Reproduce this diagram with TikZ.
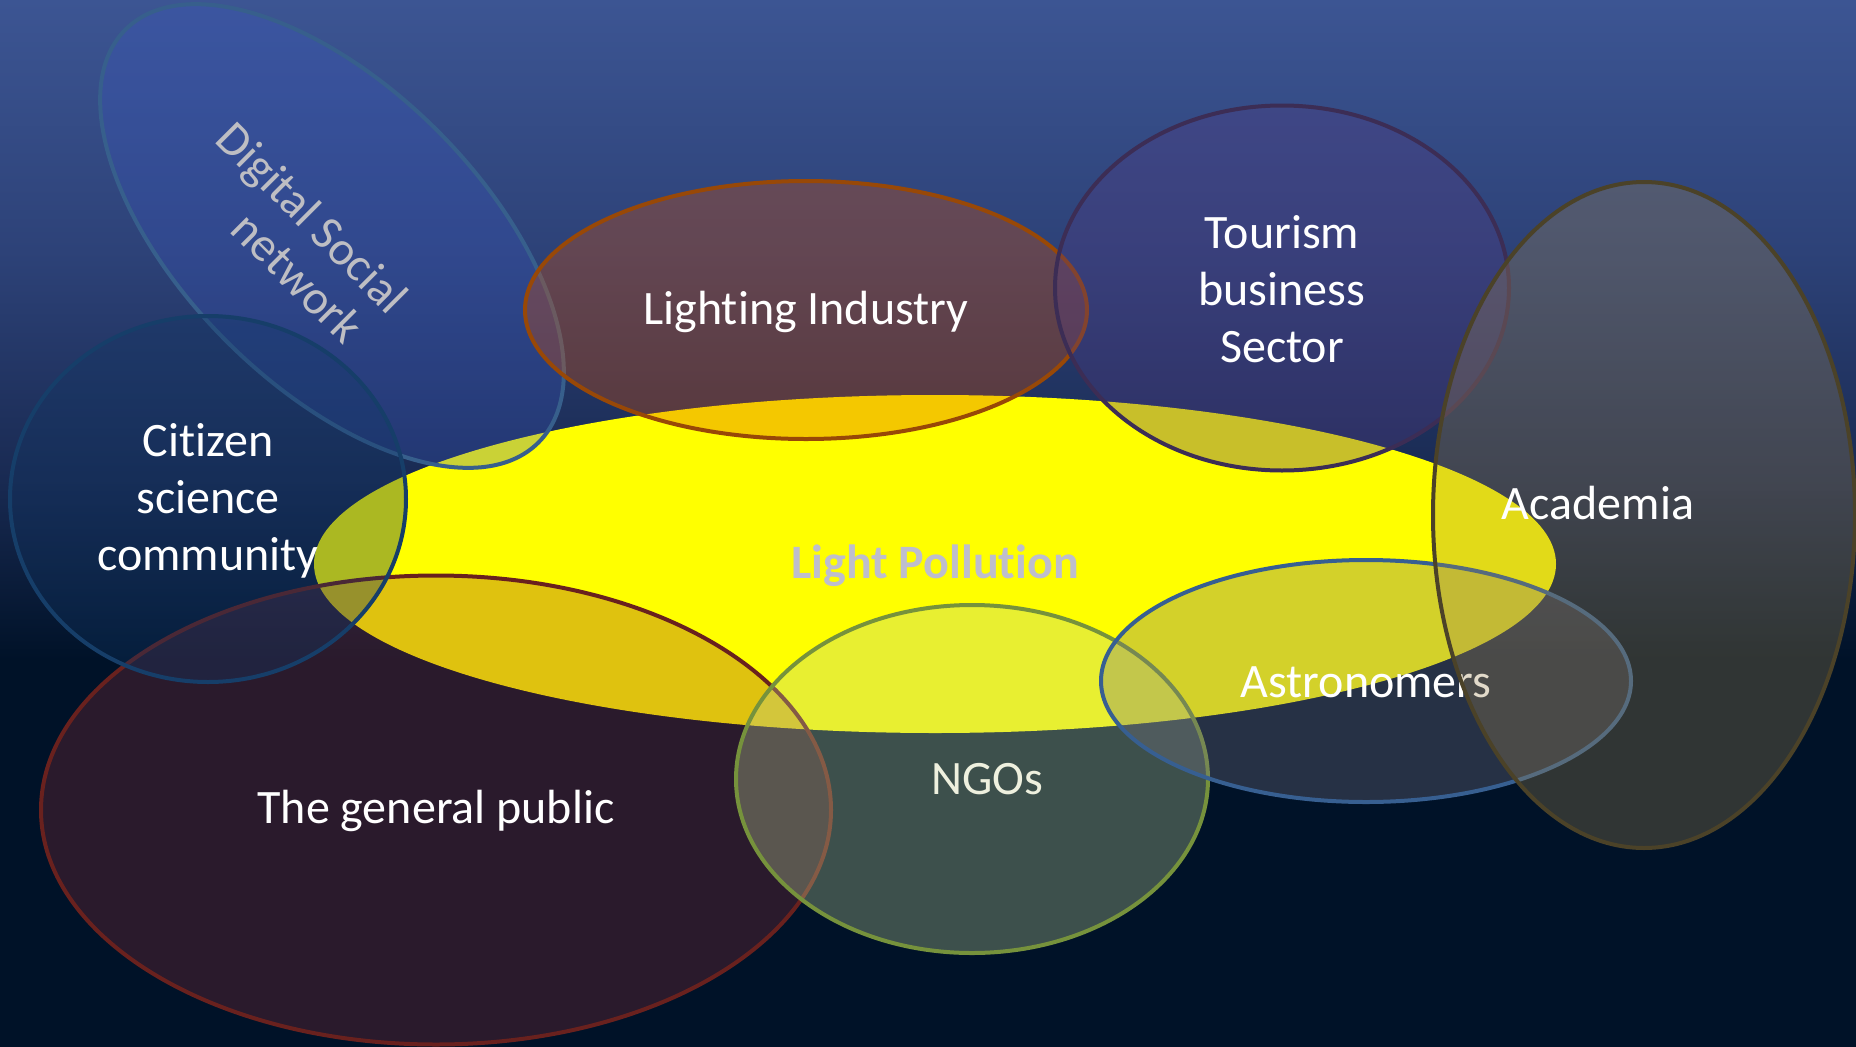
\documentclass[tikz,border=0pt]{standalone}
\usepackage{fontspec}
\setmainfont[Ligatures=NoCommon]{Carlito}
\usetikzlibrary{shapes.geometric}
\definecolor{bgtop}{RGB}{60,85,147}
\definecolor{bgmA}{RGB}{45,66,120}
\definecolor{bgmB}{RGB}{25,42,82}
\definecolor{bgbot}{RGB}{0,18,40}
\definecolor{lpfill}{RGB}{255,255,0}
\definecolor{lptext}{RGB}{190,190,205}
\definecolor{dsnfill}{RGB}{60,90,200}
\definecolor{dsnline}{RGB}{55,95,140}
\definecolor{dsntext}{RGB}{190,190,195}
\definecolor{pubfill}{RGB}{145,48,55}
\definecolor{publine}{RGB}{105,33,30}
\definecolor{citfill}{RGB}{17,54,100}
\definecolor{citline}{RGB}{22,62,105}
\definecolor{ligfill}{RGB}{220,80,0}
\definecolor{ligline}{RGB}{152,72,7}
\definecolor{tourfill}{RGB}{84,59,131}
\definecolor{tourline}{RGB}{60,45,85}
\definecolor{ngofill}{RGB}{188,209,151}
\definecolor{ngoline}{RGB}{118,146,60}
\definecolor{ngotext}{RGB}{238,240,222}
\definecolor{astfill}{RGB}{119,115,131}
\definecolor{astline}{RGB}{55,95,145}
\definecolor{acafill}{RGB}{160,135,80}
\definecolor{acaline}{RGB}{75,66,40}
\pgfdeclareverticalshading{bgshade}{100bp}{color(0bp)=(bgbot); color(43.5bp)=(bgbot); color(52.1bp)=(bgmB); color(63bp)=(bgmA); color(75bp)=(bgtop); color(100bp)=(bgtop)}
\begin{document}
\begin{tikzpicture}[x=1pt,y=-1pt,
  ell/.style={ellipse, inner sep=0pt, outer sep=0pt, line width=4pt},
  lbl/.style={font=\fontsize{48}{57}\selectfont, text=white, align=center, inner sep=0pt}]
\useasboundingbox (0,0) rectangle (1856,1047);
\shade[shading=bgshade] (0,0) rectangle (1856,1047);
% Light Pollution
\node[ell, fill=lpfill, minimum width=1242pt, minimum height=338pt] (lp) at (935,564) {};
\node[lbl, text=lptext, font=\fontsize{48}{57}\selectfont\bfseries] (lpt) at (935,566) {Light Pollution};
% Digital Social network
\node[ell, rotate=-45, draw=dsnline, fill=dsnfill, fill opacity=0.27, minimum width=584pt, minimum height=298pt] (dsn) at (332,236) {};
\node[lbl, text=dsntext, rotate=-45] (dsnt1) at (310,220) {Digital Social};
\node[lbl, text=dsntext, rotate=-45] (dsnt2) at (298,277) {network};
% The general public
\node[ell, draw=publine, fill=pubfill, fill opacity=0.29, minimum width=790pt, minimum height=469pt] (pub) at (436,810) {};
\node[lbl] (pubt) at (436,811) {The general public};
% Citizen science community
\node[ell, draw=citline, fill=citfill, fill opacity=0.35, minimum width=396pt, minimum height=366pt] (cit) at (208,499) {};
\node[lbl] (citt) at (208,501) {Citizen\\science\\community};
% Lighting Industry
\node[ell, draw=ligline, fill=ligfill, fill opacity=0.31, minimum width=562pt, minimum height=258pt] (lig) at (806,310) {};
\node[lbl] (ligt) at (806,312) {Lighting Industry};
% Tourism business Sector
\node[ell, draw=tourline, fill=tourfill, fill opacity=0.32, minimum width=454pt, minimum height=365pt] (tour) at (1282,288) {};
\node[lbl] (tourt) at (1282,289) {Tourism\\business\\Sector};
% NGOs
\node[ell, draw=ngoline, fill=ngofill, fill opacity=0.33, minimum width=472pt, minimum height=348pt] (ngo) at (972,779) {};
\node[lbl, text=ngotext] (ngot) at (987,779) {NGOs};
% Astronomers
\node[ell, draw=astline, fill=astfill, fill opacity=0.32, minimum width=530pt, minimum height=242pt] (ast) at (1366,681) {};
\node[lbl] (astt) at (1366,682) {Astronomers};
% Academia
\node[ell, draw=acaline, fill=acafill, fill opacity=0.3, minimum width=422pt, minimum height=666pt] (aca) at (1644,515) {};
\node[lbl] (acat) at (1598,503) {Academia};
\end{tikzpicture}
\end{document}
